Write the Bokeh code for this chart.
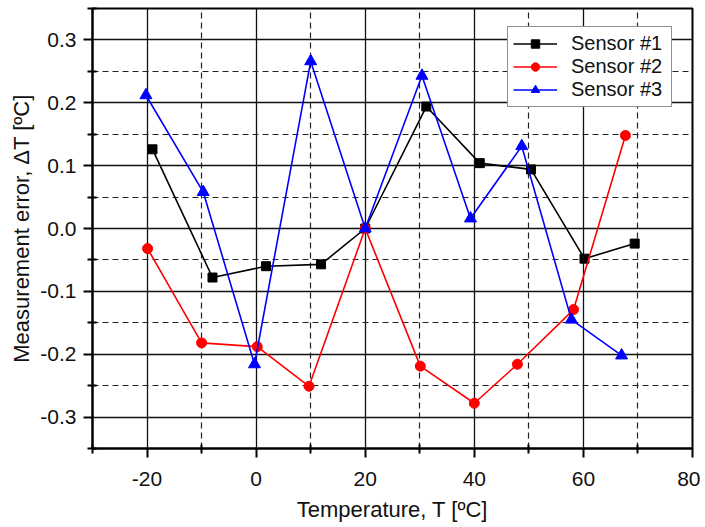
from bokeh.plotting import figure
from bokeh.models import FixedTicker, PrintfTickFormatter, Range1d, Legend, LegendItem
from bokeh.embed import file_html
from bokeh.resources import INLINE

# Data
s1_x = [-19.0, -8.0, 1.8, 11.9, 20.0, 31.2, 41.0, 50.4, 60.2, 69.4]
s1_y = [0.126, -0.078, -0.060, -0.057, 0.0, 0.194, 0.104, 0.094, -0.048, -0.024]
s2_x = [-19.9, -10.0, 0.2, 9.7, 20.0, 30.1, 40.0, 47.9, 58.2, 67.7]
s2_y = [-0.032, -0.182, -0.188, -0.251, 0.0, -0.219, -0.278, -0.216, -0.129, 0.148]
s3_x = [-20.2, -9.7, -0.3, 10.0, 20.0, 30.4, 39.3, 48.7, 57.8, 67.0]
s3_y = [0.212, 0.058, -0.216, 0.266, 0.0, 0.243, 0.016, 0.131, -0.145, -0.202]

x_major = [-20, 0, 20, 40, 60, 80]
x_minor = [-30, -10, 10, 30, 50, 70]
y_major = [-0.3, -0.2, -0.1, 0.0, 0.1, 0.2, 0.3]
y_minor = [-0.35, -0.25, -0.15, -0.05, 0.05, 0.15, 0.25, 0.35]

FONT = "Liberation Sans"

p = figure(width=700, height=524, output_backend="svg", toolbar_location=None,
           x_range=Range1d(-30, 80), y_range=Range1d(-0.35, 0.35),
           min_border_left=92, min_border_right=8, min_border_top=8, min_border_bottom=74)
p.background_fill_color = "white"
p.border_fill_color = "white"
p.outline_line_color = "black"
p.outline_line_width = 2

xt = FixedTicker(ticks=x_major, minor_ticks=x_minor)
yt = FixedTicker(ticks=y_major, minor_ticks=y_minor)
p.xaxis.ticker = xt
p.yaxis.ticker = yt
p.xgrid.ticker = xt
p.ygrid.ticker = yt
p.xaxis.formatter = PrintfTickFormatter(format="%d")
p.yaxis.formatter = PrintfTickFormatter(format="%.1f")

for ax in (p.xaxis, p.yaxis):
    ax.axis_line_color = "black"
    ax.axis_line_width = 2
    ax.major_tick_line_color = "black"
    ax.major_tick_line_width = 2
    ax.minor_tick_line_color = "black"
    ax.minor_tick_line_width = 2
    ax.major_tick_in = 0
    ax.major_tick_out = 9
    ax.minor_tick_in = 4
    ax.minor_tick_out = 5
    ax.major_label_text_font = FONT
    ax.major_label_text_font_size = "21px"
    ax.major_label_text_color = "#111111"
    ax.axis_label_text_font = FONT
    ax.axis_label_text_font_size = "22px"
    ax.axis_label_text_font_style = "normal"
    ax.axis_label_text_color = "#111111"

p.xaxis.major_label_standoff = 14
p.yaxis.major_label_standoff = 7
p.xaxis.axis_label_standoff = 8
p.yaxis.axis_label_standoff = 3
p.xaxis.axis_label = "Temperature, T [ºC]"
p.yaxis.axis_label = "Measurement error, ΔT [ºC]"

for g in (p.xgrid, p.ygrid):
    g.grid_line_color = "#111111"
    g.grid_line_width = 1.3
    g.minor_grid_line_color = "#222222"
    g.minor_grid_line_width = 1.2
    g.minor_grid_line_dash = "6 4"

l1 = p.line(s1_x, s1_y, line_color="black", line_width=1.6)
m1 = p.scatter(s1_x, s1_y, marker="square", size=9, fill_color="black", line_color="black")
l2 = p.line(s2_x, s2_y, line_color="red", line_width=1.6)
m2 = p.scatter(s2_x, s2_y, marker="circle", size=10, fill_color="red", line_color="red")
l3 = p.line(s3_x, s3_y, line_color="blue", line_width=1.6)
m3 = p.scatter(s3_x, s3_y, marker="triangle", size=12, fill_color="blue", line_color="blue")

legend = Legend(items=[
    LegendItem(label="Sensor #1", renderers=[l1, m1]),
    LegendItem(label="Sensor #2", renderers=[l2, m2]),
    LegendItem(label="Sensor #3", renderers=[l3, m3]),
], location=(415, 341))
legend.label_text_font = FONT
legend.label_text_font_size = "20px"
legend.label_text_color = "#111111"
legend.glyph_width = 44
legend.glyph_height = 21
legend.label_height = 21
legend.label_width = 95
legend.label_standoff = 14
legend.spacing = 0
legend.padding = 5
legend.margin = 0
legend.border_line_color = "#222222"
legend.border_line_width = 1.2
legend.background_fill_color = "white"
legend.background_fill_alpha = 1.0
p.add_layout(legend, "center")

open("out.html", "w").write(file_html(p, INLINE))
